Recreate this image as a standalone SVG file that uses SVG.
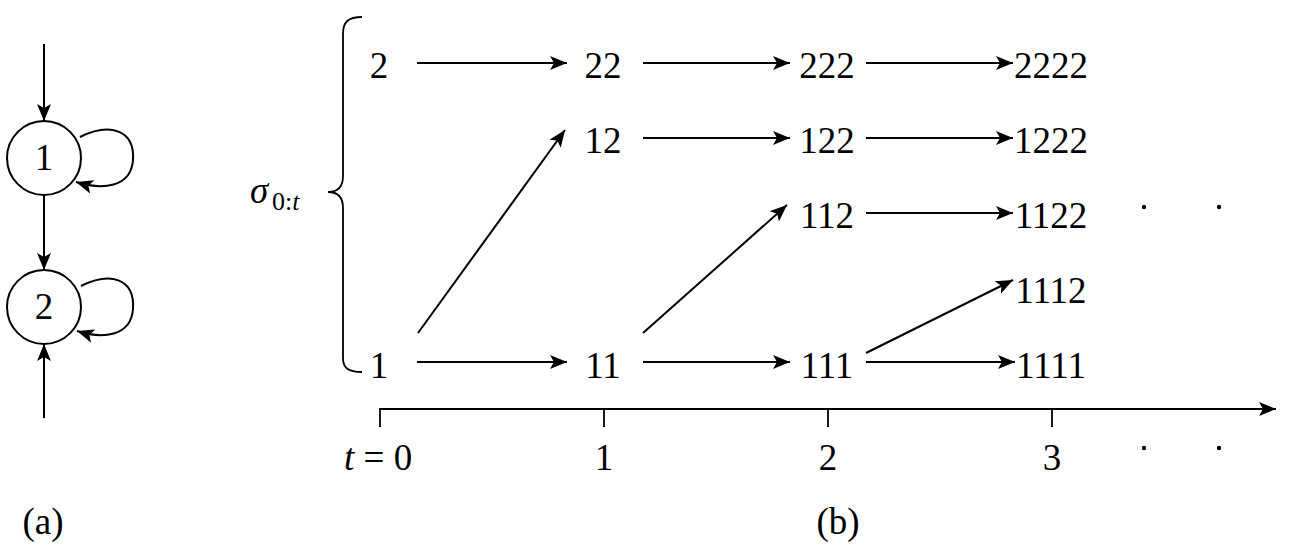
<svg xmlns="http://www.w3.org/2000/svg" width="1298" height="558" viewBox="0 0 1298 558">
<defs>
<marker id="arr" markerUnits="userSpaceOnUse" markerWidth="17" markerHeight="14" viewBox="0 0 17 14" refX="17" refY="7" orient="auto">
<path d="M0,0 L17,7 L0,14 L4,7 z" fill="#000"/>
</marker>
</defs>
<rect width="1298" height="558" fill="#fff"/>

<g id="state1">
<circle cx="44" cy="158" r="37" stroke="#000" stroke-width="2" fill="none"/>
<text x="44" y="170" text-anchor="middle" font-size="37" font-family="Liberation Serif">1</text>
</g>
<g id="state2">
<circle cx="44" cy="307" r="37" stroke="#000" stroke-width="2" fill="none"/>
<text x="44" y="319" text-anchor="middle" font-size="37" font-family="Liberation Serif">2</text>
</g>
<g id="connectors-a" stroke="#000" stroke-width="2" fill="none">
<line x1="44" y1="44" x2="44" y2="121" marker-end="url(#arr)"/>
<line x1="44" y1="195" x2="44" y2="270" marker-end="url(#arr)"/>
<line x1="44" y1="418" x2="44" y2="344" marker-end="url(#arr)"/>
<path d="M80,137 C110,122 135,130 133,160 C131,188 102,190 76,182" marker-end="url(#arr)"/>
<path d="M81,286 C111,271 135,279 133,309 C131,337 102,339 77,331" marker-end="url(#arr)"/>
</g>
<text x="43" y="534" text-anchor="middle" font-size="37" font-family="Liberation Serif">(a)</text>

<g id="brace">
<path d="M362,17 C348,17 343,22 343,34 L343,176 C343,186 338,192 328,192 C338,192 343,198 343,208 L343,358 C343,368 348,372 362,372" stroke="#000" stroke-width="1.8" fill="none"/>
</g>
<g id="sigma">
<text x="250" y="203" font-size="37" font-style="italic" font-family="Liberation Serif">σ</text>
<text x="272" y="210" font-size="26" font-family="Liberation Serif">0:<tspan font-style="italic">t</tspan></text>
</g>

<g id="n-2"><text x="379" y="78" text-anchor="middle" font-size="37" font-family="Liberation Serif">2</text></g>
<g id="n-1"><text x="379" y="378" text-anchor="middle" font-size="37" font-family="Liberation Serif">1</text></g>
<g id="n-22"><text x="603" y="78" text-anchor="middle" font-size="37" font-family="Liberation Serif">22</text></g>
<g id="n-12"><text x="603" y="153" text-anchor="middle" font-size="37" font-family="Liberation Serif">12</text></g>
<g id="n-11"><text x="603" y="378" text-anchor="middle" font-size="37" font-family="Liberation Serif">11</text></g>
<g id="n-222"><text x="827" y="78" text-anchor="middle" font-size="37" font-family="Liberation Serif">222</text></g>
<g id="n-122"><text x="827" y="153" text-anchor="middle" font-size="37" font-family="Liberation Serif">122</text></g>
<g id="n-112"><text x="827" y="228" text-anchor="middle" font-size="37" font-family="Liberation Serif">112</text></g>
<g id="n-111"><text x="827" y="378" text-anchor="middle" font-size="37" font-family="Liberation Serif">111</text></g>
<g id="n-2222"><text x="1051" y="78" text-anchor="middle" font-size="37" font-family="Liberation Serif">2222</text></g>
<g id="n-1222"><text x="1051" y="153" text-anchor="middle" font-size="37" font-family="Liberation Serif">1222</text></g>
<g id="n-1122"><text x="1051" y="228" text-anchor="middle" font-size="37" font-family="Liberation Serif">1122</text></g>
<g id="n-1112"><text x="1051" y="303" text-anchor="middle" font-size="37" font-family="Liberation Serif">1112</text></g>
<g id="n-1111"><text x="1051" y="378" text-anchor="middle" font-size="37" font-family="Liberation Serif">1111</text></g>

<g id="connectors-b" stroke="#000" stroke-width="2" fill="none">
<line x1="417" y1="63" x2="567" y2="63" marker-end="url(#arr)"/>
<line x1="643" y1="63" x2="790" y2="63" marker-end="url(#arr)"/>
<line x1="866" y1="63" x2="1013" y2="63" marker-end="url(#arr)"/>
<line x1="643" y1="138" x2="790" y2="138" marker-end="url(#arr)"/>
<line x1="866" y1="138" x2="1013" y2="138" marker-end="url(#arr)"/>
<line x1="866" y1="213" x2="1013" y2="213" marker-end="url(#arr)"/>
<line x1="417" y1="362" x2="567" y2="362" marker-end="url(#arr)"/>
<line x1="643" y1="362" x2="790" y2="362" marker-end="url(#arr)"/>
<line x1="866" y1="362" x2="1015" y2="362" marker-end="url(#arr)"/>
<line x1="418" y1="333" x2="565" y2="130" marker-end="url(#arr)"/>
<line x1="643" y1="333" x2="787" y2="205" marker-end="url(#arr)"/>
<line x1="866" y1="353" x2="1013" y2="280" marker-end="url(#arr)"/>
</g>

<g id="dots" fill="#000">
<circle cx="1144" cy="207" r="2.2"/>
<circle cx="1219" cy="207" r="2.2"/>
<circle cx="1144" cy="448" r="2.2"/>
<circle cx="1219" cy="448" r="2.2"/>
</g>

<g id="axis">
<line x1="380" y1="409" x2="1276" y2="409" stroke="#000" stroke-width="2" marker-end="url(#arr)"/>
<line x1="380" y1="408" x2="380" y2="427" stroke="#000" stroke-width="1.8"/>
<line x1="604" y1="409" x2="604" y2="427" stroke="#000" stroke-width="1.8"/>
<line x1="828" y1="409" x2="828" y2="427" stroke="#000" stroke-width="1.8"/>
<line x1="1052" y1="409" x2="1052" y2="427" stroke="#000" stroke-width="1.8"/>
<text x="344" y="470" font-size="37" font-family="Liberation Serif"><tspan font-style="italic">t</tspan> = 0</text>
<text x="604" y="470" text-anchor="middle" font-size="37" font-family="Liberation Serif">1</text>
<text x="828" y="470" text-anchor="middle" font-size="37" font-family="Liberation Serif">2</text>
<text x="1052" y="470" text-anchor="middle" font-size="37" font-family="Liberation Serif">3</text>
</g>
<text x="838" y="534" text-anchor="middle" font-size="37" font-family="Liberation Serif">(b)</text>
</svg>
